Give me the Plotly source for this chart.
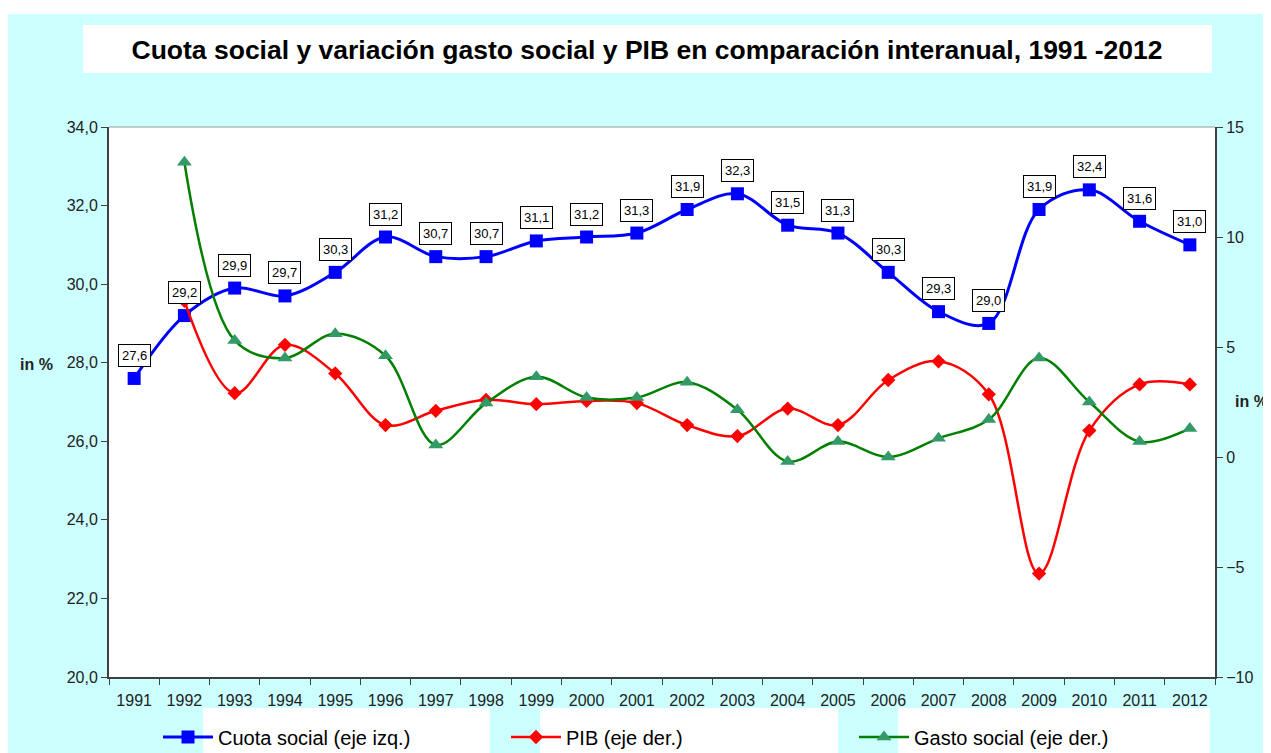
import plotly.graph_objects as go

years = [str(y) for y in range(1991, 2013)]
cuota = [27.6, 29.2, 29.9, 29.7, 30.3, 31.2, 30.7, 30.7, 31.1, 31.2, 31.3, 31.9,
         32.3, 31.5, 31.3, 30.3, 29.3, 29.0, 31.9, 32.4, 31.6, 31.0]
pib_years = years[1:]
pib = [7.1, 2.9, 5.1, 3.8, 1.45, 2.1, 2.6, 2.4, 2.55, 2.45, 1.45, 0.95,
       2.2, 1.45, 3.5, 4.35, 2.85, -5.3, 1.2, 3.3, 3.3]
gasto_years = years[1:]
gasto = [13.4, 5.3, 4.5, 5.6, 4.6, 0.55, 2.45, 3.65, 2.7, 2.7, 3.4, 2.15,
         -0.2, 0.7, 0.0, 0.85, 1.7, 4.5, 2.5, 0.7, 1.3]
left_ticks = [20.0, 22.0, 24.0, 26.0, 28.0, 30.0, 32.0, 34.0]

FONT = "Liberation Sans, Arial, sans-serif"
OFF = 8  # page body margin
W, H = 1271 - OFF, 753 - OFF
# plot area in reference pixel coordinates
RL, RR, RT, RB = 109, 1215, 127, 677
L, R, T, B = RL - OFF, RR - OFF, RT - OFF, RB - OFF


def px(x):
    return (x - RL) / (RR - RL)


def py(y):
    return (RB - y) / (RB - RT)


def cx(x):
    return (x - OFF) / W


def cy(y):
    return 1 - (y - OFF) / H


fig = go.Figure()
fig.add_trace(go.Scatter(
    x=years, y=cuota, name="Cuota social (eje izq.)", mode="lines+markers",
    line=dict(color="#0000FF", width=3, shape="spline"),
    marker=dict(symbol="square", size=13, color="#0000FF"), yaxis="y"))
fig.add_trace(go.Scatter(
    x=pib_years, y=pib, name="PIB (eje der.)", mode="lines+markers",
    line=dict(color="#FF0000", width=2.5, shape="spline"),
    marker=dict(symbol="diamond", size=11, color="#FF0000"), yaxis="y2"))
fig.add_trace(go.Scatter(
    x=gasto_years, y=gasto, name="Gasto social (eje der.)", mode="lines+markers",
    line=dict(color="#008000", width=2.5, shape="spline"),
    marker=dict(symbol="triangle-up", size=13, color="#339966"), yaxis="y2"))

annotations = []
for i, v in enumerate(cuota):
    annotations.append(dict(
        x=i, y=v, xref="x", yref="y", text=f"{v:.1f}".replace(".", ","),
        showarrow=False, yshift=23, bgcolor="white", bordercolor="black",
        borderwidth=1, borderpad=3, font=dict(family=FONT, size=13, color="black")))

annotations.append(dict(x=px(19), y=py(364), xref="paper", yref="paper", text="<b>in %</b>",
                        xanchor="left", showarrow=False, borderpad=0,
                        font=dict(family=FONT, size=16, color="#222")))
annotations.append(dict(x=px(1269), y=py(401), xref="paper", yref="paper", text="<b>in %</b>",
                        xanchor="right", showarrow=False, borderpad=0,
                        font=dict(family=FONT, size=16, color="#222")))

shapes = [
    dict(type="rect", xref="paper", yref="paper", x0=px(-20), x1=px(1300), y0=py(-20), y1=py(14),
         fillcolor="white", line=dict(width=0), layer="below"),
    dict(type="rect", xref="paper", yref="paper", x0=px(83), x1=px(1212), y0=py(25), y1=py(73),
         fillcolor="white", line=dict(width=0), layer="below"),
    dict(type="rect", xref="paper", yref="paper", x0=px(203), x1=px(490), y0=py(708), y1=py(770),
         fillcolor="white", line=dict(width=0), layer="below"),
    dict(type="rect", xref="paper", yref="paper", x0=px(540), x1=px(838), y0=py(708), y1=py(770),
         fillcolor="white", line=dict(width=0), layer="below"),
    dict(type="rect", xref="paper", yref="paper", x0=px(898), x1=px(1210), y0=py(708), y1=py(770),
         fillcolor="white", line=dict(width=0), layer="below"),
    dict(type="line", xref="paper", yref="paper", x0=0, x1=1, y0=1, y1=1,
         line=dict(color="#999999", width=1)),
]

fig.update_layout(
    width=W, height=H,
    margin=dict(l=L, r=W - R, t=T, b=H - B, autoexpand=False),
    paper_bgcolor="#CCFFFF", plot_bgcolor="white",
    separators=",.",
    title=dict(text="<b>Cuota social y variación gasto social y PIB en comparación interanual, 1991 -2012</b>",
               x=px(647), xref="paper", xanchor="center", y=cy(50), yanchor="middle",
               font=dict(family=FONT, size=26.5, color="black")),
    font=dict(family=FONT, color="#222"),
    xaxis=dict(type="category", range=[-0.5, len(years) - 0.5], tickson="boundaries",
               ticks="outside", ticklen=6, tickangle=0, ticklabelstandoff=8,
               tickcolor="#404040", showline=True, linecolor="#404040", linewidth=2,
               showgrid=False, tickfont=dict(family=FONT, size=16, color="#222")),
    yaxis=dict(range=[20, 34], tickmode="array", tickvals=left_ticks,
               ticktext=[f"{t:.1f}".replace(".", ",") for t in left_ticks],
               ticks="outside", ticklen=6, ticklabeloverflow="allow",
               tickcolor="#404040", showline=True, linecolor="#404040", linewidth=2,
               showgrid=False, zeroline=False, tickfont=dict(family=FONT, size=16, color="#222")),
    yaxis2=dict(range=[-10, 15], dtick=5, overlaying="y", side="right", ticks="outside",
                ticklen=6, tickcolor="#404040", showline=True, linecolor="#404040", linewidth=2,
                showgrid=False, zeroline=False, tickfont=dict(family=FONT, size=16, color="#222")),
    legend=dict(orientation="h", xref="container", yref="container",
                x=cx(158), xanchor="left", y=cy(737), yanchor="middle",
                bgcolor="rgba(0,0,0,0)", entrywidth=283, itemwidth=50,
                font=dict(family=FONT, size=20, color="black")),
    annotations=annotations, shapes=shapes, showlegend=True,
)

fig.write_html("out.html")
